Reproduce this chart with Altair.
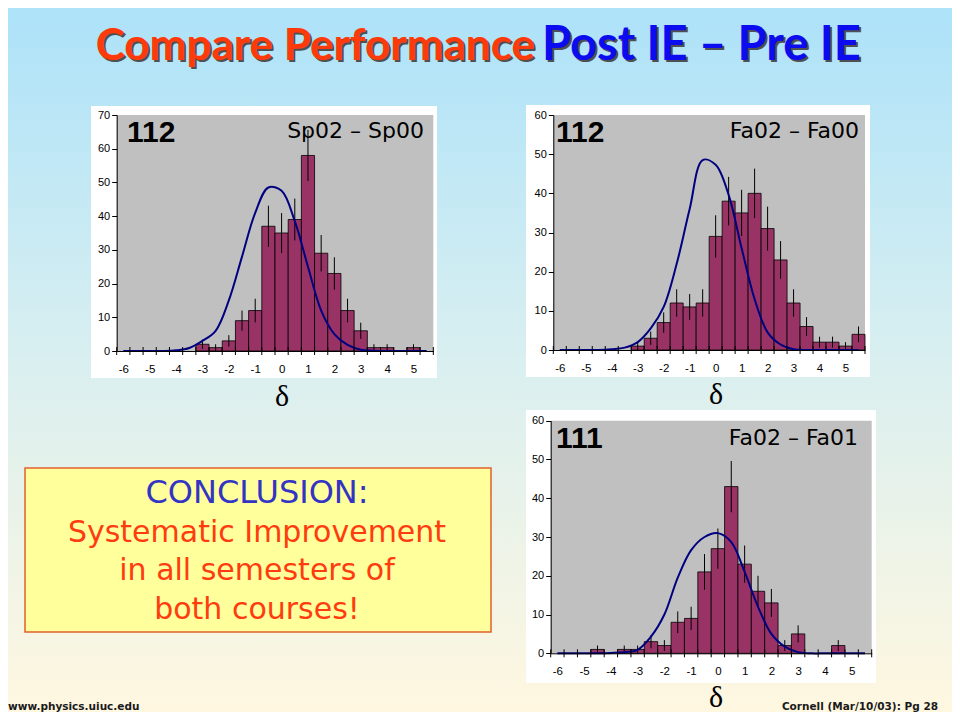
import altair as alt
import pandas as pd

W, H = 944, 704          # chart area (page minus 8px margin on each side)
M = 8                    # page margin: page coords -> chart coords

def c(v):
    return v - M

# ---------------- data ----------------
categories = [-6.0, -5.5, -5.0, -4.5, -4.0, -3.5, -3.0, -2.5, -2.0, -1.5, -1.0, -0.5,
              0.0, 0.5, 1.0, 1.5, 2.0, 2.5, 3.0, 3.5, 4.0, 4.5, 5.0, 5.5]
x_labels = [-6, -5, -4, -3, -2, -1, 0, 1, 2, 3, 4, 5]
bin_edges = [-6.25, -5.75, -5.25, -4.75, -4.25, -3.75, -3.25, -2.75, -2.25, -1.75, -1.25,
             -0.75, -0.25, 0.25, 0.75, 1.25, 1.75, 2.25, 2.75, 3.25, 3.75, 4.25, 4.75,
             5.25, 5.75]
y_ticks_70 = [0, 10, 20, 30, 40, 50, 60, 70]
y_ticks_60 = [0, 10, 20, 30, 40, 50, 60]

# Sp02 - Sp00
sp_counts = [0, 0, 0, 0, 0, 0, 2, 1, 3, 9, 12, 37, 35, 39, 58, 29, 23, 12, 6, 1, 1, 0, 1, 0]
sp_errors = [0, 0, 0, 0, 0, 0, 1.4, 1.0, 1.7, 3.0, 3.5, 6.1, 5.9, 6.2, 7.6, 5.4, 4.8, 3.5,
             2.4, 1.0, 1.0, 0, 1.0, 0]
sp_fit = [0, 0, 0, 0, 0.2, 0.9, 3.0, 6.0, 15.0, 28.0, 41.0, 48.5, 47.5, 38.5, 25.0, 12.0,
          5.0, 1.8, 0.4, 0.1, 0, 0, 0, 0]

# Fa02 - Fa00
fa0_counts = [0, 0, 0, 0, 0, 0, 1, 3, 7, 12, 11, 12, 29, 38, 35, 40, 31, 23, 12, 6, 2, 2, 1, 4]
fa0_errors = [0, 0, 0, 0, 0, 0, 1.0, 1.7, 2.6, 3.5, 3.3, 3.5, 5.4, 6.2, 5.9, 6.3, 5.6, 4.8,
              3.5, 2.4, 1.4, 1.4, 1.0, 2.0]
fa0_fit = [0, 0, 0, 0, 0.2, 0.6, 2.0, 5.5, 11.0, 22.0, 36.0, 48.5, 47.3, 39.6, 26.0, 13.0,
           4.5, 1.4, 0.2, 0, 0, 0, 0, 0]

# Fa02 - Fa01
fa1_counts = [0, 0, 0, 1, 0, 1, 1, 3, 2, 8, 9, 21, 27, 43, 23, 16, 13, 2, 5, 0, 0, 2, 0, 0]
fa1_errors = [0, 0, 0, 1.0, 0, 1.0, 1.0, 1.7, 1.4, 2.8, 3.0, 4.6, 5.2, 6.6, 4.8, 4.0, 3.6,
              1.4, 2.2, 0, 0, 1.4, 0, 0]
fa1_fit = [0, 0, 0, 0, 0.1, 0.3, 0.9, 4.3, 10.0, 19.5, 26.6, 30.0, 31.0, 28.7, 21.0, 12.0,
           5.0, 1.7, 0.3, 0, 0, 0, 0, 0]

title_parts = ["Compare Performance", "Post IE \u2013 Pre IE"]
conclusion_head = ["CONCLUSION:"]
conclusion_lines = ["Systematic Improvement", "in all semesters of", "both courses!"]
footer_left = ["www.physics.uiuc.edu"]
footer_right = ["Cornell (Mar/10/03): Pg 28"]
axis_symbol = ["\u03b4"]

panels = [
    dict(counts=sp_counts, errors=sp_errors, fit=sp_fit, n="112", label="Sp02 \u2013 Sp00",
         ymax=70, yticks=y_ticks_70,
         white=(91, 106, 437, 378), plot=(116.7, 115, 433.3, 351),
         n_pos=(127, 142), label_pos=(424, 138), delta=(282, 406)),
    dict(counts=fa0_counts, errors=fa0_errors, fit=fa0_fit, n="112", label="Fa02 \u2013 Fa00",
         ymax=60, yticks=y_ticks_60,
         white=(526, 105, 870, 377), plot=(553.3, 115, 865, 350),
         n_pos=(556, 142), label_pos=(859, 138), delta=(716, 404)),
    dict(counts=fa1_counts, errors=fa1_errors, fit=fa1_fit, n="111", label="Fa02 \u2013 Fa01",
         ymax=60, yticks=y_ticks_60,
         white=(526, 410, 876, 683), plot=(550.7, 420.7, 871.7, 653.3),
         n_pos=(556, 448), label_pos=(858, 445), delta=(716, 707)),
]

one = pd.DataFrame({"k": [0]})
layers = []

# ---------------- background ----------------
bg = alt.Chart(one).mark_rect(
    fill=alt.LinearGradient(
        gradient="linear",
        stops=[alt.GradientStop(color="#ade2f9", offset=0),
               alt.GradientStop(color="#d9eff0", offset=0.5),
               alt.GradientStop(color="#fff7e0", offset=1)],
        x1=0, x2=0, y1=0, y2=1),
).encode(x=alt.value(0), x2=alt.value(W), y=alt.value(0), y2=alt.value(H))
layers.append(bg)


def text_layer(strings, x, y, **kw):
    df = pd.DataFrame({"t": strings})
    return alt.Chart(df).mark_text(**kw).encode(
        x=alt.value(x), y=alt.value(y), text="t:N")


# ---------------- title (with drop shadow, as on the slide) ----------------
TF = dict(font="Lato", fontWeight="bold", baseline="alphabetic")
layers.append(text_layer([title_parts[0]], c(535) + 2, c(60) + 2, align="right",
                         color="#505050", fontSize=44, **TF))
layers.append(text_layer([title_parts[0]], c(535), c(60), align="right",
                         color="#ff3a0a", fontSize=44, **TF))
layers.append(text_layer([title_parts[1]], c(542) + 2, c(60) + 2, align="left",
                         color="#505050", fontSize=47, **TF))
layers.append(text_layer([title_parts[1]], c(542), c(60), align="left",
                         color="#0c0cf0", fontSize=47, **TF))

LABEL_EXPR = "datum.value < 0 ? '-' + abs(datum.value) : '' + datum.value"

# ---------------- panels ----------------
for p in panels:
    wx0, wy0, wx1, wy1 = p["white"]
    px0, pyt, px1, pyb = p["plot"]
    layers.append(alt.Chart(one).mark_rect(fill="white").encode(
        x=alt.value(c(wx0)), x2=alt.value(c(wx1)), y=alt.value(c(wy0)), y2=alt.value(c(wy1))))
    layers.append(alt.Chart(one).mark_rect(fill="#c0c0c0").encode(
        x=alt.value(c(px0)), x2=alt.value(c(px1)), y=alt.value(c(pyt)), y2=alt.value(c(pyb))))

    xs = alt.Scale(domain=[-6.25, 5.75], range=[c(px0), c(px1)], nice=False, zero=False)
    ys = alt.Scale(domain=[0, p["ymax"]], range=[c(pyb), c(pyt)], nice=False, zero=False)

    df = pd.DataFrame({"cat": categories, "count": p["counts"], "err": p["errors"],
                       "fit": p["fit"]})
    df["lo_edge"] = df["cat"] - 0.25
    df["hi_edge"] = df["cat"] + 0.25
    df["elo"] = df["count"] - df["err"]
    df["ehi"] = df["count"] + df["err"]
    bars_df = df[df["count"] > 0]

    x_axis = alt.Axis(orient="bottom", offset=c(pyb) - H, values=x_labels, ticks=False,
                      tickSize=0, labelPadding=12, labelFont="Liberation Sans",
                      labelFontSize=11.5, labelColor="black", domainColor="black",
                      domainWidth=1, grid=False, title=None, labelFlush=False, zindex=2,
                      labelExpr=LABEL_EXPR)
    y_axis = alt.Axis(orient="left", offset=-c(px0), values=p["yticks"], tickSize=5,
                      tickColor="black", labelPadding=2, labelFont="Liberation Sans",
                      labelFontSize=11, labelColor="black", domainColor="black",
                      domainWidth=1, grid=False, title=None, labelFlush=False, zindex=2)

    bars = alt.Chart(bars_df).mark_rect(fill="#993366", stroke="black", strokeWidth=0.8).encode(
        x=alt.X("lo_edge:Q", scale=xs, axis=x_axis),
        x2="hi_edge:Q",
        y=alt.Y("count:Q", scale=ys, axis=y_axis),
        y2=alt.datum(0),
    )
    err = alt.Chart(bars_df).mark_rule(color="black", strokeWidth=1).encode(
        x=alt.X("cat:Q", scale=xs, axis=None),
        y=alt.Y("elo:Q", scale=ys, axis=None),
        y2="ehi:Q",
    )
    curve = alt.Chart(df).mark_line(color="#000080", strokeWidth=2,
                                    interpolate="catmull-rom").encode(
        x=alt.X("cat:Q", scale=xs, axis=None),
        y=alt.Y("fit:Q", scale=ys, axis=None),
    )
    ticks = alt.Chart(pd.DataFrame({"b": bin_edges})).mark_rule(color="black").encode(
        x=alt.X("b:Q", scale=xs, axis=None),
        y=alt.value(c(pyb) - 4), y2=alt.value(c(pyb) + 4),
    )
    layers += [bars, err, curve, ticks]

    layers.append(text_layer([p["n"]], c(p["n_pos"][0]), c(p["n_pos"][1]), align="left",
                             baseline="alphabetic", font="Liberation Sans", fontSize=30,
                             fontWeight="bold", color="black"))
    layers.append(text_layer([p["label"]], c(p["label_pos"][0]), c(p["label_pos"][1]),
                             align="right", baseline="alphabetic", font="DejaVu Sans",
                             fontSize=22, color="black"))
    layers.append(text_layer(axis_symbol, c(p["delta"][0]), c(p["delta"][1]), align="center",
                             baseline="alphabetic", font="Liberation Serif", fontSize=30,
                             color="black"))

# ---------------- conclusion box ----------------
layers.append(alt.Chart(one).mark_rect(fill="#ffff9c", stroke="#e0602e", strokeWidth=1.5).encode(
    x=alt.value(c(25)), x2=alt.value(c(491)), y=alt.value(c(468)), y2=alt.value(c(632))))
layers.append(text_layer(conclusion_head, c(257), c(503), align="center", baseline="alphabetic",
                         font="DejaVu Sans", fontSize=32, color="#3434c4"))
for i, line in enumerate(conclusion_lines):
    layers.append(text_layer([line], c(257), c(542 + 38.3 * i), align="center",
                             baseline="alphabetic", font="DejaVu Sans", fontSize=30,
                             color="#ff3c10"))

# ---------------- footer ----------------
layers.append(text_layer(footer_left, c(8), c(710), align="left", baseline="alphabetic",
                         font="DejaVu Sans", fontSize=10.5, fontWeight="bold", color="#1a1a1a"))
layers.append(text_layer(footer_right, c(938), c(710), align="right", baseline="alphabetic",
                         font="DejaVu Sans", fontSize=10.5, fontWeight="bold", color="#1a1a1a"))

chart = alt.layer(*layers).resolve_scale(x="independent", y="independent").properties(
    width=W, height=H, autosize=alt.AutoSizeParams(type="none"), padding=0,
    background="#ffffff",
).configure_view(stroke=None)

chart.save("out.html", embed_options={"renderer": "svg", "actions": False})
